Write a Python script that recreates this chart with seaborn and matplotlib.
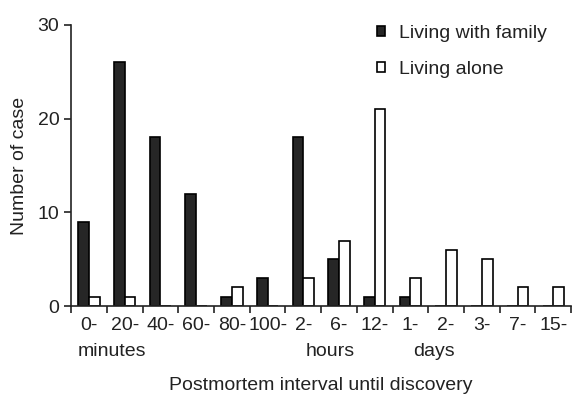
import pandas as pd
import matplotlib.pyplot as plt
import seaborn as sns

# data
interval_keys = ["0-m", "20-m", "40-m", "60-m", "80-m", "100-m",
                 "2-h", "6-h", "12-h", "1-d", "2-d", "3-d", "7-d", "15-d"]
tick_labels = ["0-", "20-", "40-", "60-", "80-", "100-",
               "2-", "6-", "12-", "1-", "2-", "3-", "7-", "15-"]
living_with_family = [9, 26, 18, 12, 1, 3, 18, 5, 1, 1, 0, 0, 0, 0]
living_alone = [1, 1, 0, 0, 2, 0, 3, 7, 21, 3, 6, 5, 2, 2]
unit_labels = ["minutes", "hours", "days"]
unit_pos = [0.65, 6.75, 9.65]

df = pd.DataFrame({
    "interval": interval_keys * 2,
    "cases": living_with_family + living_alone,
    "group": ["Living with family"] * len(interval_keys) + ["Living alone"] * len(interval_keys),
})

sns.set_style("ticks")
plt.rcParams["font.family"] = ["Liberation Sans", "DejaVu Sans"]
plt.rcParams["text.color"] = "#222222"
plt.rcParams["axes.labelcolor"] = "#222222"

fig = plt.figure(figsize=(5.74, 3.96), dpi=100)
ax = fig.add_axes([0.124, 0.227, 0.871, 0.71])

sns.barplot(data=df, x="interval", y="cases", hue="group", order=interval_keys,
            palette={"Living with family": "#262626", "Living alone": "white"},
            width=0.6, saturation=1, edgecolor="black", linewidth=1.2, ax=ax)

ax.set_xlim(-0.5, 13.5)
ax.set_ylim(0, 30)
ax.set_yticks([0, 10, 20, 30])
ax.tick_params(axis="y", labelsize=14, length=5, width=1.2, colors="#222222")

# labels at category centres, tick marks at boundaries
ax.set_xticks(range(len(tick_labels)))
ax.set_xticklabels(tick_labels)
ax.tick_params(axis="x", which="major", length=0, labelsize=14, pad=8, colors="#222222")
ax.set_xticks([i - 0.5 for i in range(len(tick_labels) + 1)], minor=True)
ax.tick_params(axis="x", which="minor", length=5, width=1.2, color="#222222")

for lab, xpos in zip(unit_labels, unit_pos):
    ax.text(xpos, -0.163, lab, transform=ax.get_xaxis_transform(),
            ha="center", va="center", fontsize=14)

ax.set_xlabel("Postmortem interval until discovery", fontsize=14, labelpad=31)
ax.set_ylabel("Number of case", fontsize=14, labelpad=7)

sns.despine(ax=ax)
for s in ["left", "bottom"]:
    ax.spines[s].set_linewidth(1.2)
    ax.spines[s].set_color("#222222")

ax.legend(loc="upper left", bbox_to_anchor=(367 / 574, 1 - 15 / 396),
          bbox_transform=fig.transFigure, frameon=False, fontsize=14,
          handlelength=0.45, handleheight=0.45, handletextpad=0.7,
          labelspacing=1.0, borderpad=0, title=None)

fig.savefig("out.png", dpi=100)
